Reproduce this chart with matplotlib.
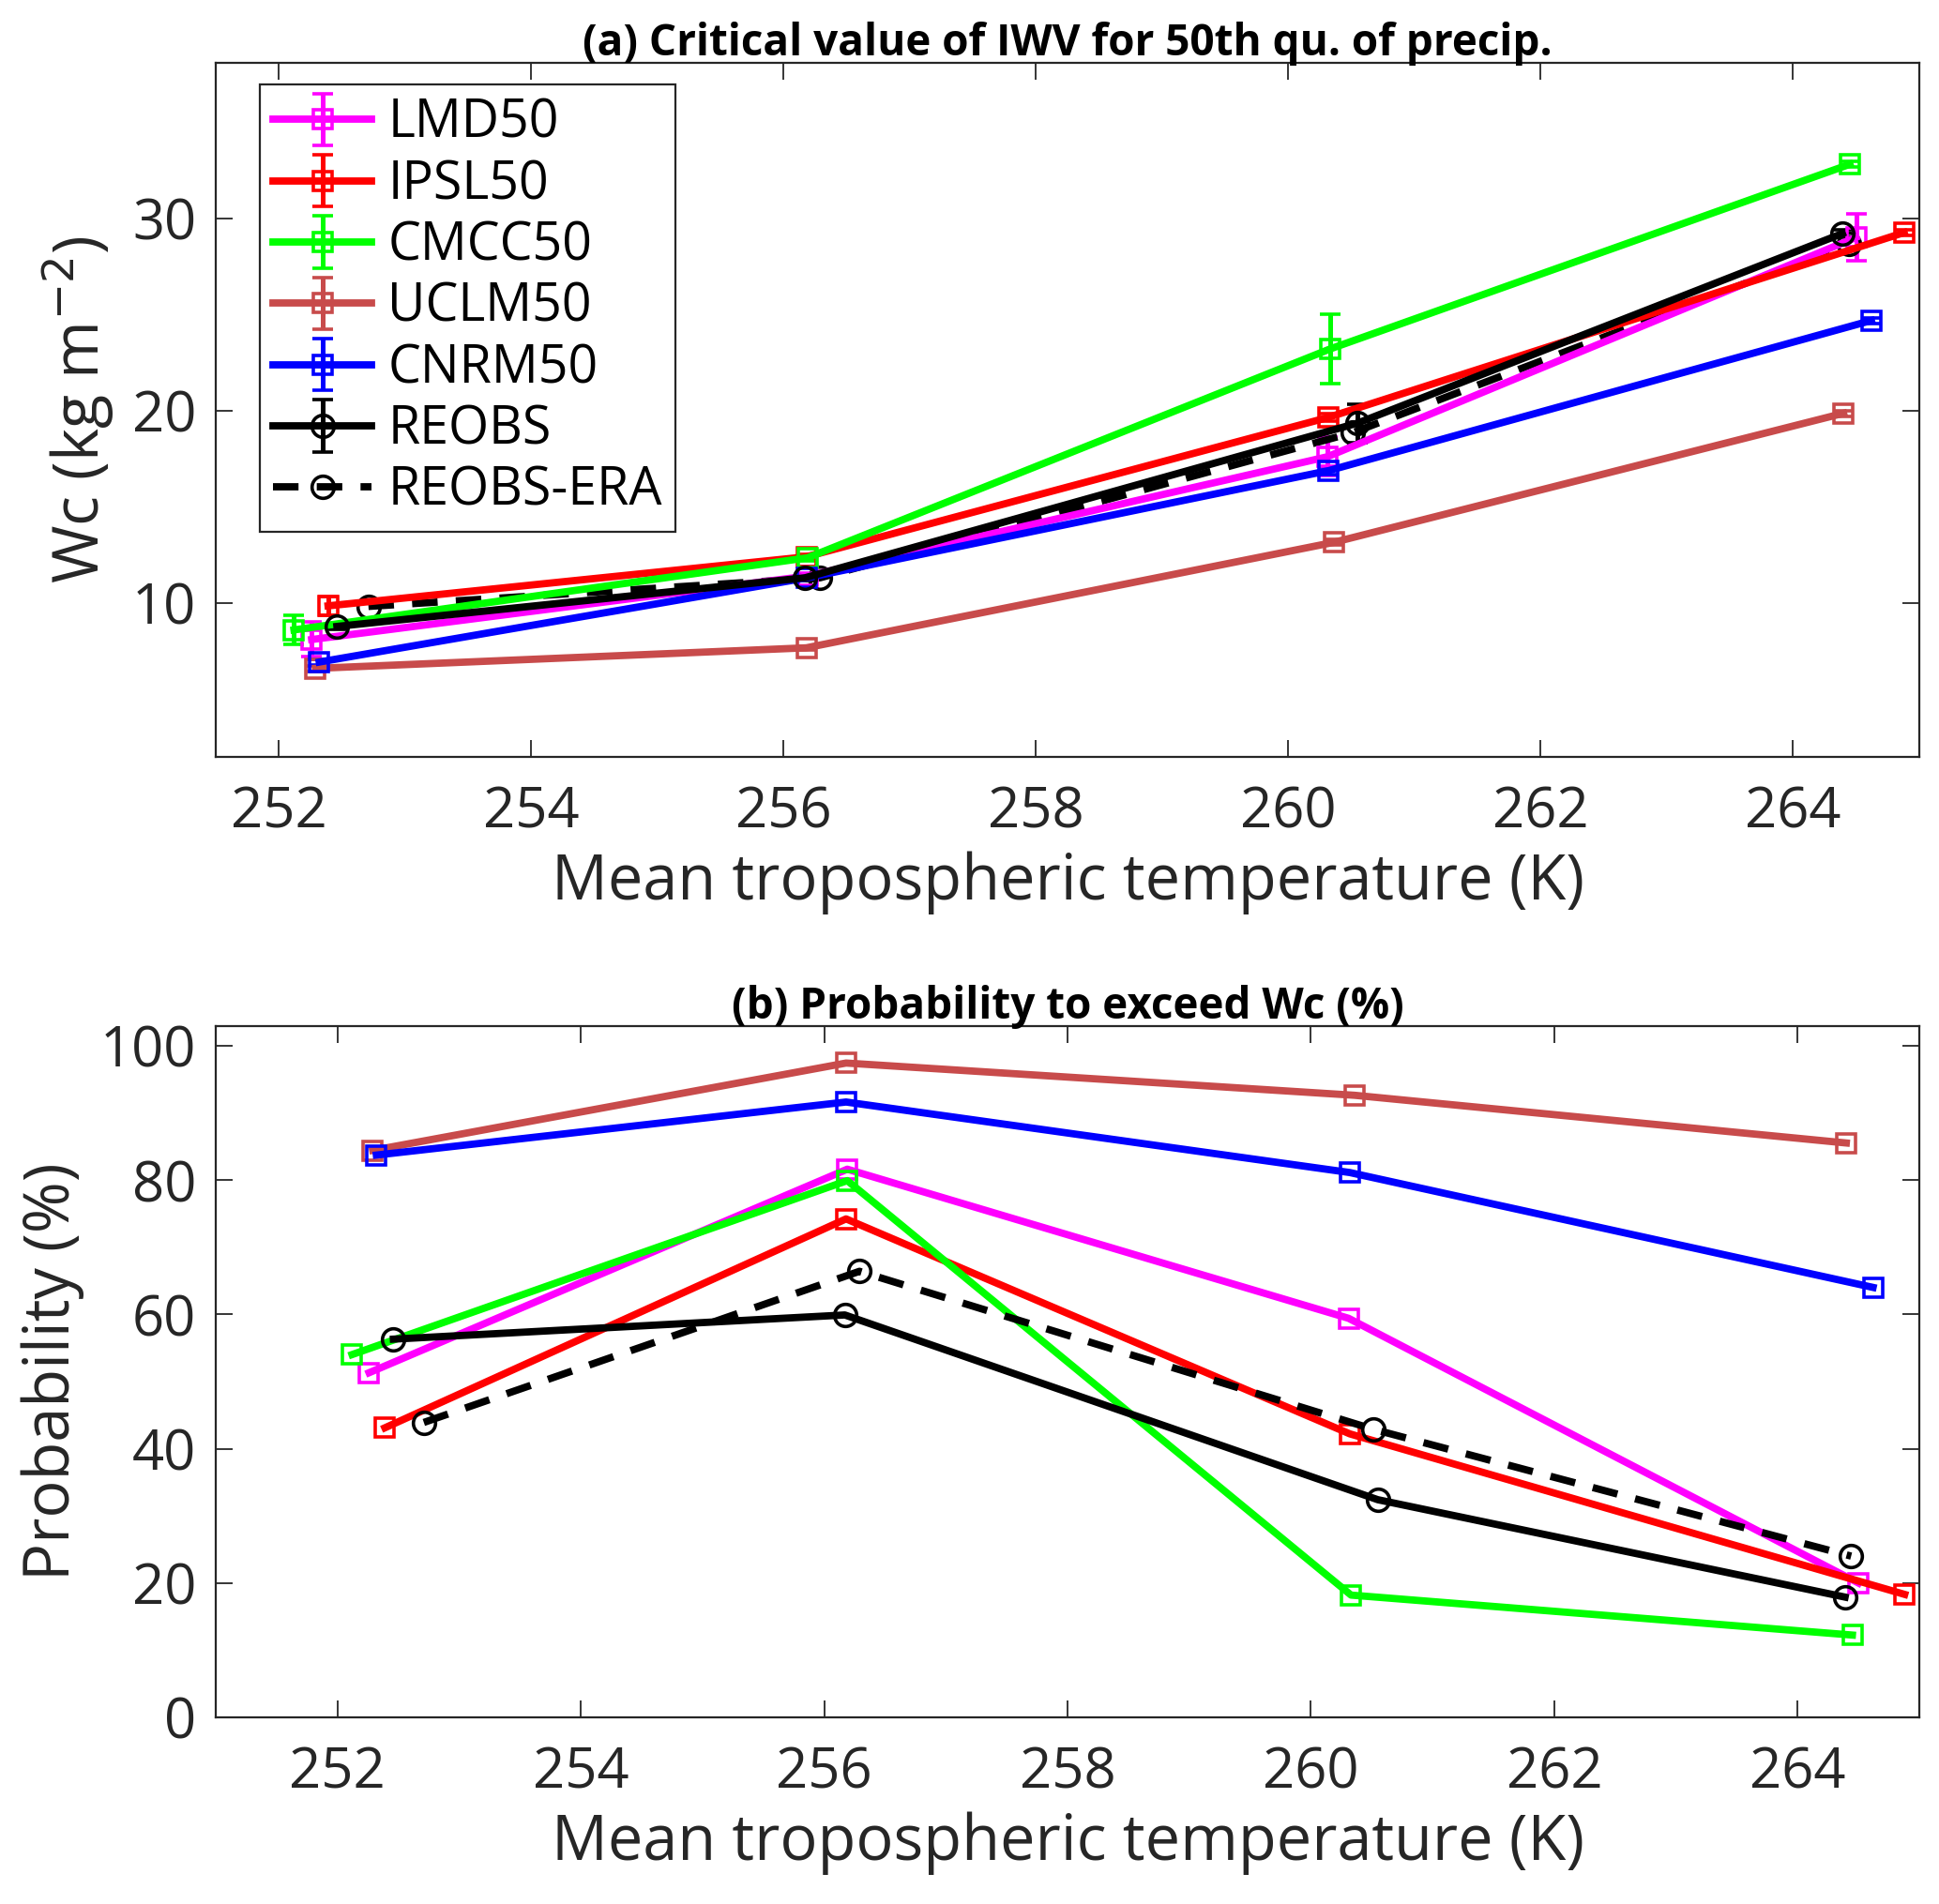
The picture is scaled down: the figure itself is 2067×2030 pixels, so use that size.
import matplotlib
matplotlib.use("Agg")
import matplotlib.pyplot as plt

plt.rcParams['font.family'] = ['Open Sans', 'DejaVu Sans']

models = ["LMD50", "IPSL50", "CMCC50", "UCLM50", "CNRM50", "REOBS", "REOBS-ERA"]
colors = ["#FF00FF", "#FF0000", "#00FF00", "#C84B4B", "#0000FF", "#000000", "#000000"]

# mean tropospheric temperature (K) for each dataset
temp_LMD = [252.26, 256.19, 260.31, 264.50]
temp_IPSL = [252.39, 256.18, 260.32, 264.88]
temp_CMCC = [252.12, 256.19, 260.33, 264.45]
temp_UCLM = [252.29, 256.18, 260.36, 264.40]
temp_CNRM = [252.32, 256.18, 260.32, 264.62]
temp_REOBS = [252.46, 256.17, 260.55, 264.39]
temp_ERA = [252.71, 256.29, 260.51, 264.44]

# (a) critical IWV (kg m-2) and its uncertainty
wc_LMD = [8.1, 11.4, 17.6, 29.0]
wc_IPSL = [9.85, 12.4, 19.65, 29.25]
wc_CMCC = [8.6, 12.35, 23.2, 32.8]
wc_UCLM = [6.6, 7.67, 13.15, 19.86]
wc_CNRM = [6.93, 11.3, 16.88, 24.68]
wc_REOBS = [8.78, 11.31, 19.35, 29.2]
wc_ERA = [9.82, 11.31, 18.85, 28.66]

err_LMD = [0.9, 0.15, 1.0, 1.2]
err_IPSL = [0.5, 0.15, 0.2, 0.15]
err_CMCC = [0.75, 0.15, 1.8, 0.15]
err_UCLM = [0.15, 0.1, 0.15, 0.15]
err_CNRM = [0.15, 0.15, 0.2, 0.15]
err_REOBS = [0.15, 0.15, 1.0, 0.2]

# (b) probability to exceed Wc (%)
prob_LMD = [51.3, 81.6, 59.4, 20.0]
prob_IPSL = [43.1, 74.2, 42.2, 18.3]
prob_CMCC = [54.0, 79.9, 18.2, 12.25]
prob_UCLM = [84.4, 97.4, 92.6, 85.5]
prob_CNRM = [83.7, 91.6, 81.1, 64.0]
prob_REOBS = [56.3, 59.9, 32.4, 17.9]
prob_ERA = [43.9, 66.4, 42.9, 24.0]

temps = [temp_LMD, temp_IPSL, temp_CMCC, temp_UCLM, temp_CNRM, temp_REOBS, temp_ERA]
wcs = [wc_LMD, wc_IPSL, wc_CMCC, wc_UCLM, wc_CNRM, wc_REOBS, wc_ERA]
errs = [err_LMD, err_IPSL, err_CMCC, err_UCLM, err_CNRM, err_REOBS, None]
probs = [prob_LMD, prob_IPSL, prob_CMCC, prob_UCLM, prob_CNRM, prob_REOBS, prob_ERA]

W, H = 2067, 2030
fig = plt.figure(figsize=(W / 100, H / 100), dpi=100)

def px_axes(l, r, t, b):
    return fig.add_axes([l / W, 1 - b / H, (r - l) / W, (b - t) / H])

ax1 = px_axes(230, 2046, 67, 807)
ax2 = px_axes(230, 2046, 1094, 1831)

txtc = "#262626"
LW = 5.6
dash = (0, (3.5, 2.5))
TICK_FS = 43
LAB_FS = 48
TITLE_FS = 33

def style(ax):
    for s in ax.spines.values():
        s.set_linewidth(1.6)
        s.set_color(txtc)
    ax.tick_params(direction='in', length=13, width=1.3, top=True, right=True,
                   labelsize=TICK_FS, colors=txtc)
    ax.tick_params(axis='x', pad=21)
    ax.tick_params(axis='y', pad=15)

handles = []
for i, m in enumerate(models):
    isobs = m.startswith("REOBS")
    mk = 'o' if isobs else 's'
    ms = 17 if isobs else 15
    ls = dash if m == "REOBS-ERA" else '-'
    if errs[i] is not None:
        h = ax1.errorbar(temps[i], wcs[i], yerr=errs[i], color=colors[i], lw=LW, ls=ls,
                         marker=mk, ms=ms, mfc='none', mew=2.6, elinewidth=3.6,
                         capsize=8, capthick=3.6, label=m)
    else:
        h, = ax1.plot(temps[i], wcs[i], color=colors[i], lw=LW, ls=ls, marker=mk, ms=ms,
                      mfc='none', mew=2.6, label=m)
    handles.append(h)
    ax2.plot(temps[i], probs[i], color=colors[i], lw=LW, ls=ls, marker=mk, ms=ms,
             mfc='none', mew=2.6)

style(ax1)
style(ax2)

ax1.set_xlim(251.5, 265)
ax1.set_ylim(2, 38.07)
ax1.set_xticks([252, 254, 256, 258, 260, 262, 264])
ax1.set_yticks([10, 20, 30])
ax1.set_xlabel("Mean tropospheric temperature (K)", fontsize=LAB_FS, color=txtc, labelpad=8)
ax1.set_ylabel("Wc (kg m$^{-2}$)", fontsize=LAB_FS, color=txtc, labelpad=12)
ax1.set_title("(a) Critical value of IWV for 50th qu. of precip.", fontsize=TITLE_FS,
              fontweight='bold', pad=6)

ax2.set_xlim(251, 265)
ax2.set_ylim(0, 102.9)
ax2.set_xticks([252, 254, 256, 258, 260, 262, 264])
ax2.set_yticks([0, 20, 40, 60, 80, 100])
ax2.set_xlabel("Mean tropospheric temperature (K)", fontsize=LAB_FS, color=txtc, labelpad=8)
ax2.set_ylabel("Probability (%)", fontsize=LAB_FS, color=txtc, labelpad=12)
ax2.set_title("(b) Probability to exceed Wc (%)", fontsize=TITLE_FS, fontweight='bold', pad=6)

leg = ax1.legend(handles, models, loc='upper left', bbox_to_anchor=(0.0259, 0.969),
                 borderaxespad=0, fontsize=40, fancybox=False, framealpha=1,
                 edgecolor=txtc, handlelength=1.9, labelspacing=0.15, borderpad=0.25,
                 handletextpad=0.3)
leg.get_frame().set_linewidth(1.6)

fig.savefig("out.png", dpi=100)
